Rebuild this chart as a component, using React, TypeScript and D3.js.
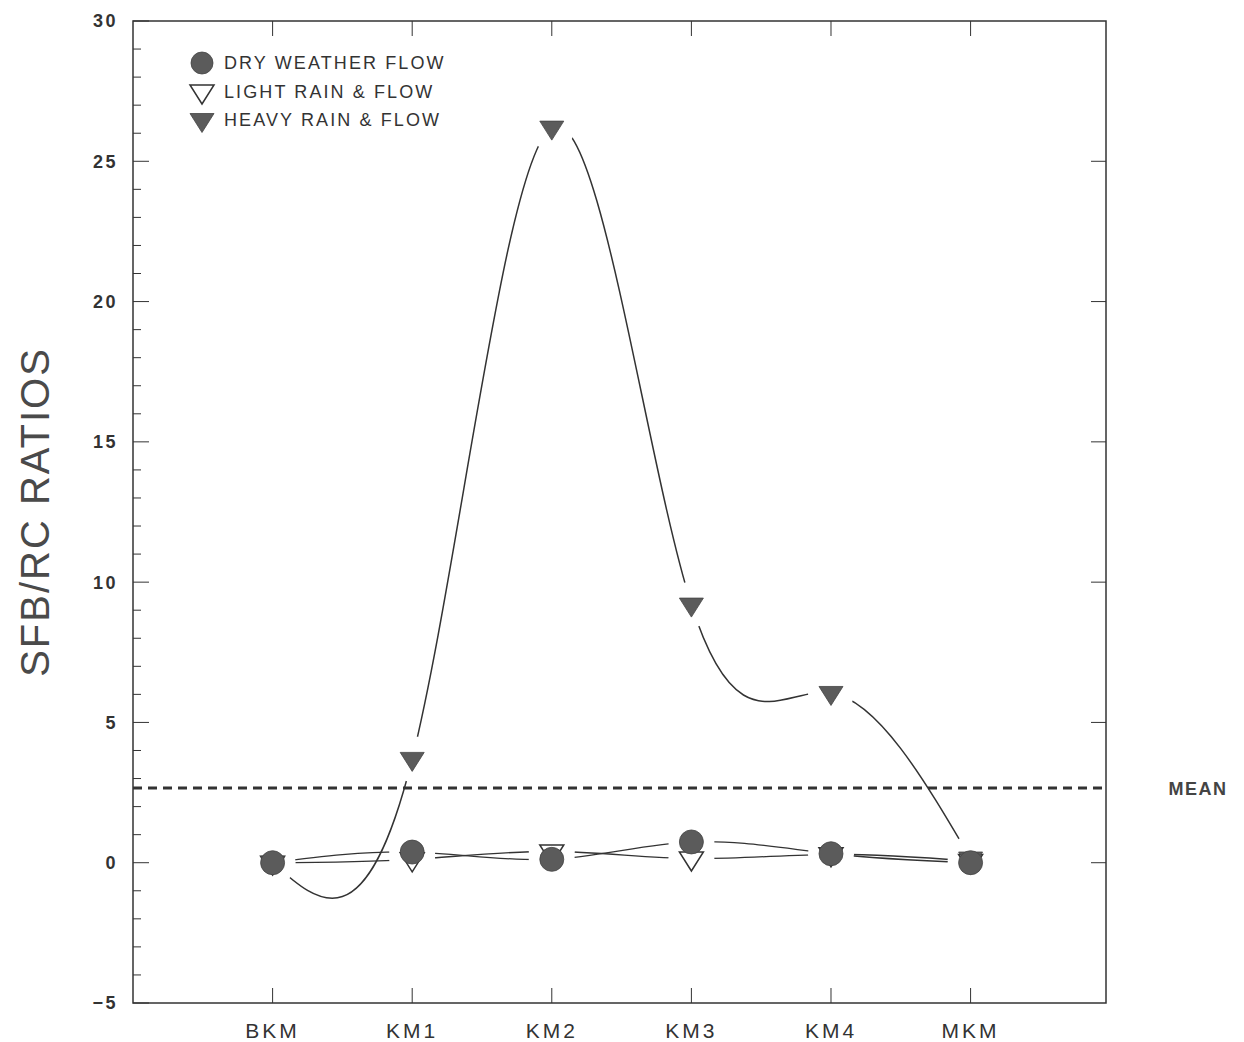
import React from "react";
import * as d3 from "d3";

// Sampling stations along the river
const stations = ["BKM", "KM1", "KM2", "KM3", "KM4", "MKM"];

// SFB/RC ratios per station
const dryWeather = [0.0, 0.38, 0.12, 0.74, 0.32, 0.0];
const lightRain = [0.0, 0.12, 0.4, 0.15, 0.3, 0.06];
const heavyRain = [0.0, 3.7, 26.2, 9.2, 6.05, 0.15];

const meanRatio = 2.66;

const yMajorTicks = [-5, 0, 5, 10, 15, 20, 25, 30];
const yMinorTicks = d3.range(-5, 31, 1);

const legendItems = [
  { label: "DRY WEATHER FLOW", kind: "circle" },
  { label: "LIGHT RAIN & FLOW", kind: "open" },
  { label: "HEAVY RAIN & FLOW", kind: "filled" },
];

const W = 1244;
const H = 1042;
const left = 133;
const right = 1106;
const top = 21;
const bottom = 1003;

const x = d3.scaleLinear().domain([-1, 5.97]).range([left, right]);
const y = d3.scaleLinear().domain([-5, 30]).range([bottom, top]);

const INK = "#333";
const FILL = "#5b5b5b";

// Downward-pointing triangle, centred on its centroid
function downTriangle(cx: number, cy: number) {
  const p = d3.path();
  p.moveTo(cx - 12, cy - 6.5);
  p.lineTo(cx + 12, cy - 6.5);
  p.lineTo(cx, cy + 12.5);
  p.closePath();
  return p.toString();
}

const lineGen = d3
  .line<number>()
  .x((_, i) => x(i))
  .y((d) => y(d))
  .curve(d3.curveNatural);

const series = [
  { id: "dry", values: dryWeather, width: 1.3 },
  { id: "light", values: lightRain, width: 1.3 },
  { id: "heavy", values: heavyRain, width: 1.5 },
];

const GAP = 23;

export default function App() {
  return (
    <svg
      width={W}
      height={H}
      style={{ position: "absolute", left: 0, top: 0, background: "#fff" }}
      fontFamily="'Liberation Sans', Arial, sans-serif"
    >
      <defs>
        {series.map((s) => (
          <mask id={`gap-${s.id}`} key={s.id} maskUnits="userSpaceOnUse" x={0} y={0} width={W} height={H}>
            <rect x={0} y={0} width={W} height={H} fill="#fff" />
            {s.values.map((v, i) => (
              <circle key={i} cx={x(i)} cy={y(v)} r={GAP} fill="#000" />
            ))}
          </mask>
        ))}
      </defs>

      {/* frame */}
      <rect
        x={left}
        y={top}
        width={right - left}
        height={bottom - top}
        fill="none"
        stroke={INK}
        strokeWidth={1.5}
      />

      {/* left axis: minor and major ticks */}
      {yMinorTicks.map((t) => {
        const major = t % 5 === 0;
        return (
          <line
            key={`lt${t}`}
            x1={left}
            x2={left + (major ? 16 : 8)}
            y1={y(t)}
            y2={y(t)}
            stroke={INK}
            strokeWidth={1}
          />
        );
      })}
      {/* right axis ticks */}
      {yMajorTicks
        .filter((t) => t > -5 && t < 30)
        .map((t) => (
          <line
            key={`rt${t}`}
            x1={right - 15}
            x2={right}
            y1={y(t)}
            y2={y(t)}
            stroke={INK}
            strokeWidth={1}
          />
        ))}
      {/* category ticks top and bottom */}
      {stations.map((s, i) => (
        <g key={`ct${s}`}>
          <line x1={x(i)} x2={x(i)} y1={bottom} y2={bottom - 15} stroke={INK} strokeWidth={1} />
          <line x1={x(i)} x2={x(i)} y1={top} y2={top + 15} stroke={INK} strokeWidth={1} />
        </g>
      ))}

      {/* y tick labels */}
      {yMajorTicks.map((t) => (
        <text
          key={`yl${t}`}
          x={118}
          y={y(t)}
          dy="0.36em"
          textAnchor="end"
          fontSize={18}
          fontWeight="bold"
          letterSpacing={2.5}
          fill={INK}
        >
          {t < 0 ? `\u2212${Math.abs(t)}` : t}
        </text>
      ))}

      {/* x category labels */}
      {stations.map((s, i) => (
        <text
          key={`xl${s}`}
          x={x(i)}
          y={1038}
          textAnchor="middle"
          fontSize={21}
          letterSpacing={3}
          fill={INK}
        >
          {s}
        </text>
      ))}

      {/* y axis title */}
      <text
        transform={`translate(49, 512) rotate(-90)`}
        textAnchor="middle"
        fontSize={40}
        letterSpacing={2}
        fill="#4a4a4a"
      >
        SFB/RC RATIOS
      </text>

      {/* mean line */}
      <line
        x1={left}
        x2={right}
        y1={y(meanRatio)}
        y2={y(meanRatio)}
        stroke={INK}
        strokeWidth={3}
        strokeDasharray="9 6"
      />
      <text
        x={1198}
        y={y(meanRatio)}
        dy="0.36em"
        textAnchor="middle"
        fontSize={18}
        fontWeight="bold"
        letterSpacing={1.5}
        fill="#444"
      >
        MEAN
      </text>

      {/* smoothed series lines, broken around their markers */}
      {series.map((s) => (
        <path
          key={`ln${s.id}`}
          d={lineGen(s.values) || ""}
          fill="none"
          stroke={INK}
          strokeWidth={s.width}
          mask={`url(#gap-${s.id})`}
        />
      ))}

      {/* markers */}
      {lightRain.map((v, i) => (
        <path
          key={`lm${i}`}
          d={downTriangle(x(i), y(v))}
          fill="#fff"
          stroke={INK}
          strokeWidth={1.5}
        />
      ))}
      {heavyRain.map((v, i) => (
        <path key={`hm${i}`} d={downTriangle(x(i), y(v))} fill={FILL} stroke="#444" strokeWidth={0.8} />
      ))}
      {dryWeather.map((v, i) => (
        <circle key={`dm${i}`} cx={x(i)} cy={y(v)} r={12} fill={FILL} stroke="#444" strokeWidth={0.8} />
      ))}

      {/* legend */}
      {legendItems.map((item, i) => {
        const cy = 63 + i * 28.5;
        const cx = 202;
        return (
          <g key={item.label}>
            {item.kind === "circle" && (
              <circle cx={cx} cy={cy} r={11} fill={FILL} stroke="#444" strokeWidth={0.8} />
            )}
            {item.kind === "open" && (
              <path d={downTriangle(cx, cy)} fill="#fff" stroke={INK} strokeWidth={1.5} />
            )}
            {item.kind === "filled" && (
              <path d={downTriangle(cx, cy)} fill={FILL} stroke="#444" strokeWidth={0.8} />
            )}
            <text
              x={224}
              y={cy}
              dy="0.36em"
              fontSize={18}
              letterSpacing={2.1}
              fill={INK}
            >
              {item.label}
            </text>
          </g>
        );
      })}
    </svg>
  );
}
